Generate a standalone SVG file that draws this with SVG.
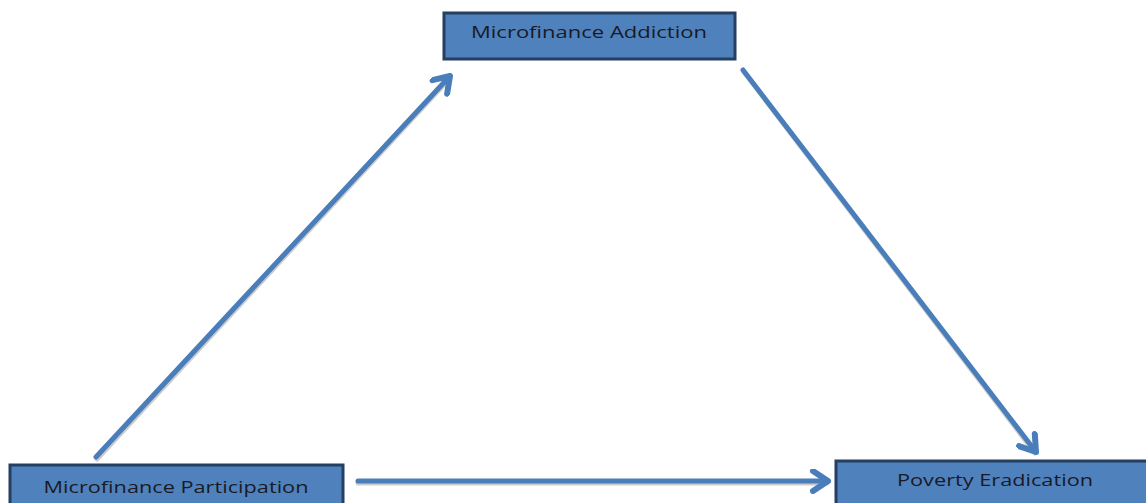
<svg xmlns="http://www.w3.org/2000/svg" width="1146" height="503" viewBox="0 0 1146 503">
<style>
.box{fill:#4f81bd;stroke:#243f60;stroke-width:3}
.lbl{font-family:"Open Sans","Liberation Sans",sans-serif;font-size:17px;fill:#1a1a26;text-anchor:middle}
.conn{stroke:#4a7ebb;stroke-width:5;fill:none;stroke-linecap:round}
.sh{stroke:#9a9a9a;stroke-width:5;fill:none;opacity:0.5;stroke-linecap:round}
</style>
<defs>
<marker id="ah" viewBox="0 0 10 10" refX="8" refY="5" markerWidth="5" markerHeight="5" markerUnits="strokeWidth" orient="auto">
<polyline points="2,1 8,5 2,9" fill="none" stroke="#4a7ebb" stroke-width="2.4" stroke-linecap="round" stroke-linejoin="round"/>
</marker>
</defs>
<rect width="1146" height="503" fill="#ffffff"/>
<g id="connectors">
<line class="sh" x1="97" y1="459" x2="449" y2="79"/>
<line class="conn" x1="96" y1="457" x2="450" y2="76" marker-end="url(#ah)"/>
<line class="sh" x1="744" y1="72" x2="1035" y2="453"/>
<line class="conn" x1="743" y1="70" x2="1036" y2="452" marker-end="url(#ah)"/>
<line class="sh" x1="358" y1="483" x2="827" y2="483"/>
<line class="conn" x1="358" y1="481" x2="828" y2="481" marker-end="url(#ah)"/>
</g>
<g id="node-addiction">
<rect class="box" x="444" y="13" width="291" height="46"/>
<text class="lbl" x="589" y="38" textLength="236" lengthAdjust="spacingAndGlyphs">Microfinance Addiction</text>
</g>
<g id="node-participation">
<rect class="box" x="10" y="465" width="333" height="44"/>
<text class="lbl" x="176" y="493" textLength="265" lengthAdjust="spacingAndGlyphs">Microfinance Participation</text>
</g>
<g id="node-poverty">
<rect class="box" x="836" y="461" width="320" height="48"/>
<text class="lbl" x="995" y="486" textLength="196" lengthAdjust="spacingAndGlyphs">Poverty Eradication</text>
</g>
</svg>
